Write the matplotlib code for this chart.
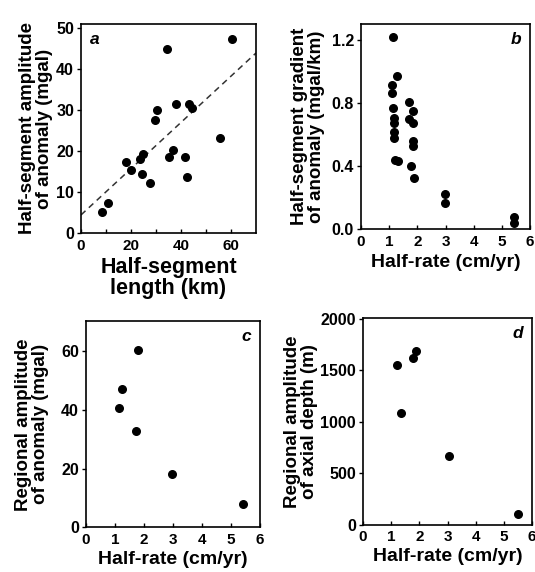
import matplotlib
matplotlib.use("Agg")
import matplotlib.pyplot as plt

plt.rcParams['font.family'] = ['Liberation Sans', 'DejaVu Sans']
plt.rcParams['font.weight'] = 'bold'
plt.rcParams['axes.labelweight'] = 'bold'

# panel a: half-segment length vs half-segment amplitude
a_len = [8.4, 10.8, 18.0, 20.0, 23.7, 24.8, 24.4, 27.5, 29.6, 30.4, 34.4, 35.1,
         36.8, 38.1, 41.6, 42.5, 43.1, 44.5, 55.5, 60.3]
a_amp = [5.0, 7.2, 17.2, 15.3, 18.0, 19.2, 14.5, 12.2, 27.6, 30.1, 45.0, 18.6,
         20.2, 31.4, 18.6, 13.7, 31.5, 30.4, 23.1, 47.3]
a_fit_x = [0, 70]
a_fit_y = [4.4, 43.9]

# panel b: half-rate vs half-segment gradient
b_rate = [1.14, 1.26, 1.11, 1.11, 1.14, 1.16, 1.16, 1.16, 1.16, 1.20, 1.32,
          1.72, 1.72, 1.84, 1.86, 1.86, 1.86, 1.76, 1.87,
          2.97, 2.97, 5.44, 5.44]
b_grad = [1.22, 0.97, 0.91, 0.865, 0.765, 0.705, 0.675, 0.615, 0.575, 0.44, 0.43,
          0.805, 0.695, 0.675, 0.75, 0.56, 0.525, 0.40, 0.325,
          0.22, 0.165, 0.075, 0.04]

# panel c: half-rate vs regional amplitude of anomaly
c_rate = [1.14, 1.24, 1.78, 1.73, 2.97, 5.41]
c_amp = [40.5, 47.0, 60.1, 32.6, 18.1, 7.9]

# panel d: half-rate vs regional amplitude of axial depth
d_rate = [1.21, 1.36, 1.76, 1.88, 3.04, 5.49]
d_depth = [1555, 1088, 1619, 1693, 663, 106]

fig = plt.figure(figsize=(5.35, 5.72), dpi=100)
ax_a = fig.add_axes([0.1514, 0.5927, 0.327, 0.3654])
ax_b = fig.add_axes([0.6748, 0.5997, 0.3159, 0.3584])
ax_c = fig.add_axes([0.1607, 0.0778, 0.3252, 0.361])
ax_d = fig.add_axes([0.6785, 0.0830, 0.3159, 0.361])

lab_kw = dict(fontsize=13.5, fontweight='bold')

for ax in (ax_a, ax_b, ax_c, ax_d):
    for s in ax.spines.values():
        s.set_linewidth(1.2)
    ax.tick_params(axis='x', direction='in', length=3, width=1, labelsize=11, pad=4)
    ax.tick_params(axis='y', direction='out', length=3, width=1, labelsize=11.5, pad=2)

# a
ax_a.scatter(a_len, a_amp, s=30, c='black', zorder=3)
ax_a.plot(a_fit_x, a_fit_y, ls=(0, (4, 3)), color='#333333', lw=1.1)
ax_a.set_xlim(0, 70)
ax_a.set_ylim(0, 51)
ax_a.set_xticks(range(0, 70, 10))
ax_a.set_xticklabels(['0', '', '20', '', '40', '', '60'])
ax_a.set_yticks(range(0, 51, 10))
ax_a.set_xlabel('Half-segment\nlength (km)', fontsize=15.5, fontweight='bold', labelpad=3, linespacing=1.0)
ax_a.set_ylabel('Half-segment amplitude\nof anomaly (mgal)', labelpad=2, linespacing=1.0, **lab_kw)
ax_a.text(0.05, 0.96, 'a', transform=ax_a.transAxes, ha='left', va='top',
          fontsize=12.5, fontstyle='italic', fontweight='bold')

# b
ax_b.scatter(b_rate, b_grad, s=30, c='black', zorder=3)
ax_b.set_xlim(0, 6)
ax_b.set_ylim(0, 1.3)
ax_b.set_xticks(range(0, 7))
ax_b.set_yticks([0.0, 0.4, 0.8, 1.2])
ax_b.set_yticklabels(['0.0', '0.4', '0.8', '1.2'])
ax_b.set_xlabel('Half-rate (cm/yr)', labelpad=4, fontsize=14, fontweight='bold')
ax_b.set_ylabel('Half-segment gradient\nof anomaly (mgal/km)', labelpad=5, linespacing=1.0, **lab_kw)
ax_b.text(0.95, 0.96, 'b', transform=ax_b.transAxes, ha='right', va='top',
          fontsize=12.5, fontstyle='italic', fontweight='bold')

# c
ax_c.scatter(c_rate, c_amp, s=30, c='black', zorder=3)
ax_c.set_xlim(0, 6)
ax_c.set_ylim(0, 70)
ax_c.set_xticks(range(0, 7))
ax_c.set_yticks([0, 20, 40, 60])
ax_c.set_xlabel('Half-rate (cm/yr)', labelpad=3, fontsize=14, fontweight='bold')
ax_c.set_ylabel('Regional amplitude\nof anomaly (mgal)', labelpad=9, linespacing=1.0, **lab_kw)
ax_c.text(0.95, 0.96, 'c', transform=ax_c.transAxes, ha='right', va='top',
          fontsize=12.5, fontstyle='italic', fontweight='bold')

# d
ax_d.scatter(d_rate, d_depth, s=30, c='black', zorder=3)
ax_d.set_xlim(0, 6)
ax_d.set_ylim(0, 2010)
ax_d.set_xticks(range(0, 7))
ax_d.set_yticks([0, 500, 1000, 1500, 2000])
ax_d.set_xlabel('Half-rate (cm/yr)', labelpad=3, fontsize=14, fontweight='bold')
ax_d.set_ylabel('Regional amplitude\nof axial depth (m)', labelpad=2, linespacing=1.0, **lab_kw)
ax_d.text(0.95, 0.96, 'd', transform=ax_d.transAxes, ha='right', va='top',
          fontsize=12.5, fontstyle='italic', fontweight='bold')

fig.savefig('out.png', dpi=100)
